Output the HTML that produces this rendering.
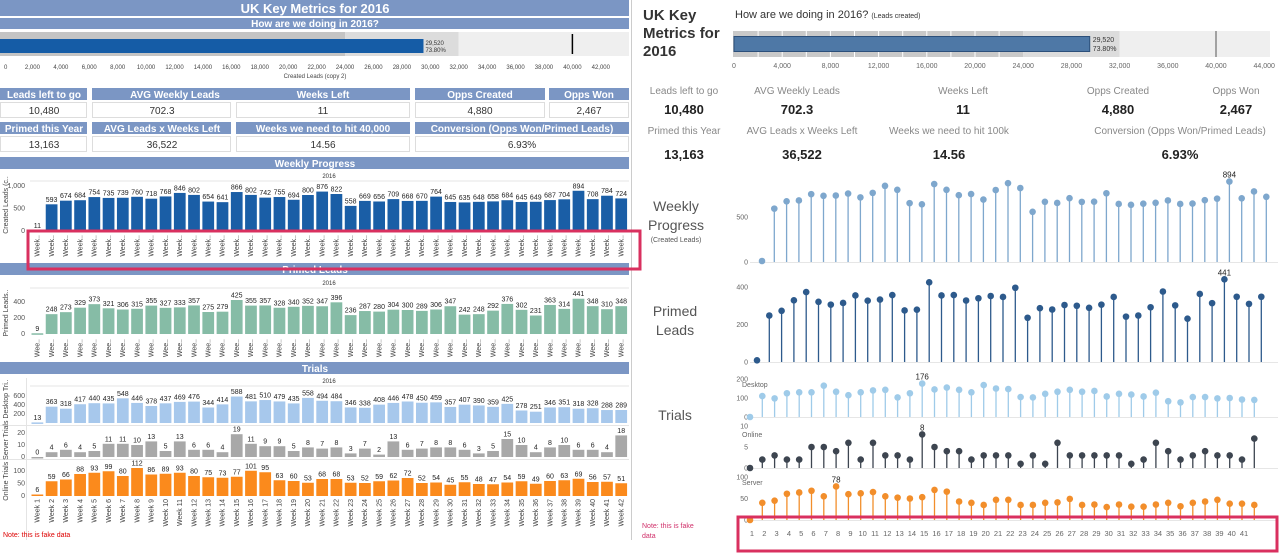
<!DOCTYPE html>
<html><head><meta charset="utf-8">
<style>
html,body{margin:0;padding:0;background:#fff;}
svg{display:block;font-family:"Liberation Sans",sans-serif;}
</style></head>
<body>
<svg id="dash" width="1280" height="553" viewBox="0 0 1280 553" xmlns="http://www.w3.org/2000/svg">
<g>
<rect x="0" y="0" width="629" height="16" fill="#7b96c4"/>
<text x="315" y="13" font-size="13" font-weight="bold" fill="#fff" text-anchor="middle">UK Key Metrics for 2016</text>
<rect x="0" y="18" width="629" height="11" fill="#7b96c4"/>
<text x="315" y="27" font-size="10" font-weight="bold" fill="#fff" text-anchor="middle">How are we doing in 2016?</text>
<g id="lbullet"></g>
<g font-size="10" text-anchor="middle">
<rect x="0" y="88" width="87" height="12" fill="#7b96c4"/><text x="44" y="98" fill="#fff" font-weight="bold">Leads left to go</text>
<rect x="92" y="88" width="166" height="12" fill="#7b96c4"/><text x="175" y="98" fill="#fff" font-weight="bold">AVG Weekly Leads</text>
<rect x="236" y="88" width="174" height="12" fill="#7b96c4"/><text x="323" y="98" fill="#fff" font-weight="bold">Weeks Left</text>
<rect x="415" y="88" width="130" height="12" fill="#7b96c4"/><text x="480" y="98" fill="#fff" font-weight="bold">Opps Created</text>
<rect x="549" y="88" width="80" height="12" fill="#7b96c4"/><text x="589" y="98" fill="#fff" font-weight="bold">Opps Won</text>
<rect x="0.5" y="102.5" width="86" height="15" fill="#fff" stroke="#ddd"/><text x="44" y="114" fill="#333">10,480</text>
<rect x="92.5" y="102.5" width="138" height="15" fill="#fff" stroke="#ddd"/><text x="162" y="114" fill="#333">702.3</text>
<rect x="236.5" y="102.5" width="173" height="15" fill="#fff" stroke="#ddd"/><text x="323" y="114" fill="#333">11</text>
<rect x="415.5" y="102.5" width="129" height="15" fill="#fff" stroke="#ddd"/><text x="480" y="114" fill="#333">4,880</text>
<rect x="549.5" y="102.5" width="79" height="15" fill="#fff" stroke="#ddd"/><text x="589" y="114" fill="#333">2,467</text>
<rect x="0" y="122" width="87" height="12" fill="#7b96c4"/><text x="44" y="132" fill="#fff" font-weight="bold">Primed this Year</text>
<rect x="92" y="122" width="139" height="12" fill="#7b96c4"/><text x="162" y="132" fill="#fff" font-weight="bold">AVG Leads x Weeks Left</text>
<rect x="236" y="122" width="174" height="12" fill="#7b96c4"/><text x="323" y="132" fill="#fff" font-weight="bold">Weeks we need to hit 40,000</text>
<rect x="415" y="122" width="214" height="12" fill="#7b96c4"/><text x="522" y="132" fill="#fff" font-weight="bold">Conversion (Opps Won/Primed Leads)</text>
<rect x="0.5" y="136.5" width="86" height="15" fill="#fff" stroke="#ddd"/><text x="44" y="148" fill="#333">13,163</text>
<rect x="92.5" y="136.5" width="138" height="15" fill="#fff" stroke="#ddd"/><text x="162" y="148" fill="#333">36,522</text>
<rect x="236.5" y="136.5" width="173" height="15" fill="#fff" stroke="#ddd"/><text x="323" y="148" fill="#333">14.56</text>
<rect x="415.5" y="136.5" width="213" height="15" fill="#fff" stroke="#ddd"/><text x="522" y="148" fill="#333">6.93%</text>
</g>
<rect x="0" y="157" width="629" height="12" fill="#7b96c4"/>
<text x="315" y="167" font-size="10" font-weight="bold" fill="#fff" text-anchor="middle">Weekly Progress</text>
<rect x="0" y="263" width="629" height="12" fill="#7b96c4"/>
<text x="315" y="273" font-size="10" font-weight="bold" fill="#fff" text-anchor="middle">Primed Leads</text>
<rect x="0" y="362" width="629" height="12" fill="#7b96c4"/>
<text x="315" y="372" font-size="10" font-weight="bold" fill="#fff" text-anchor="middle">Trials</text>
<line x1="0" x2="629" y1="425.5" y2="425.5" stroke="#e4e4e4"/>
<line x1="0" x2="629" y1="459.5" y2="459.5" stroke="#e4e4e4"/>
<line x1="26.5" x2="26.5" y1="378" y2="540" stroke="#e4e4e4"/>
<g id="lcharts" font-size="7"></g>
<text x="3" y="537" font-size="7" fill="#d00">Note: this is fake data</text>
<line x1="631.5" y1="0" x2="631.5" y2="540" stroke="#ccc"/>
</g>
<g>
<text font-size="15" font-weight="bold" fill="#333"><tspan x="643" y="20">UK Key</tspan><tspan x="643" y="38">Metrics for</tspan><tspan x="643" y="56">2016</tspan></text>
<text x="735" y="18" font-size="11" fill="#333">How are we doing in 2016? <tspan font-size="7">(Leads created)</tspan></text>
<g id="rbullet"></g>
<g text-anchor="middle">
<text x="684" y="94" font-size="10" fill="#888">Leads left to go</text>
<text x="797" y="94" font-size="10" fill="#888">AVG Weekly Leads</text>
<text x="963" y="94" font-size="10" fill="#888">Weeks Left</text>
<text x="1118" y="94" font-size="10" fill="#888">Opps Created</text>
<text x="1236" y="94" font-size="10" fill="#888">Opps Won</text>
<text x="684" y="114" font-size="13" font-weight="bold" fill="#222">10,480</text>
<text x="797" y="114" font-size="13" font-weight="bold" fill="#222">702.3</text>
<text x="963" y="114" font-size="13" font-weight="bold" fill="#222">11</text>
<text x="1118" y="114" font-size="13" font-weight="bold" fill="#222">4,880</text>
<text x="1236" y="114" font-size="13" font-weight="bold" fill="#222">2,467</text>
<text x="684" y="134" font-size="10" fill="#888">Primed this Year</text>
<text x="802" y="134" font-size="10" fill="#888">AVG Leads x Weeks Left</text>
<text x="949" y="134" font-size="10" fill="#888">Weeks we need to hit 100k</text>
<text x="1180" y="134" font-size="10" fill="#888">Conversion (Opps Won/Primed Leads)</text>
<text x="684" y="159" font-size="13" font-weight="bold" fill="#222">13,163</text>
<text x="802" y="159" font-size="13" font-weight="bold" fill="#222">36,522</text>
<text x="949" y="159" font-size="13" font-weight="bold" fill="#222">14.56</text>
<text x="1180" y="159" font-size="13" font-weight="bold" fill="#222">6.93%</text>
</g>
<text text-anchor="middle" fill="#555" font-size="14"><tspan x="676" y="211">Weekly</tspan><tspan x="676" y="230">Progress</tspan><tspan x="676" y="242" font-size="7">(Created Leads)</tspan></text>
<text text-anchor="middle" fill="#555" font-size="14"><tspan x="675" y="316">Primed</tspan><tspan x="675" y="335">Leads</tspan></text>
<text x="675" y="420" text-anchor="middle" fill="#555" font-size="14">Trials</text>
<g id="rcharts" font-size="7"></g>
<text font-size="7" fill="#d0306a"><tspan x="642" y="528">Note: this is fake</tspan><tspan x="642" y="538">data</tspan></text>
</g>
<rect x="28" y="231" width="612" height="38" fill="none" stroke="#d9305f" stroke-width="3"/>
<rect x="738" y="517" width="539" height="34" fill="none" stroke="#d9305f" stroke-width="3"/>
</svg>
<script>
const weekNums = [1,2,3,4,5,6,7,8,9,10,11,12,13,14,15,16,17,18,19,20,21,22,23,24,25,26,27,28,29,30,31,32,33,34,35,36,37,38,39,40,41,42];
const createdLeads = [11,593,674,684,754,735,739,760,718,768,846,802,654,641,866,802,742,755,694,800,876,822,558,669,656,709,668,670,764,645,635,648,658,684,645,649,687,704,894,708,784,724];
const primedLeads = [9,248,273,329,373,321,306,315,355,327,333,357,275,279,425,355,357,328,340,352,347,396,236,287,280,304,300,289,306,347,242,248,292,376,302,231,363,314,441,348,310,348];
const desktopTrials = [13,363,318,417,440,435,548,446,378,437,469,476,344,414,588,481,510,479,435,558,494,484,346,338,408,446,478,450,459,357,407,390,359,425,278,251,346,351,318,328,288,289];
const serverTrials = [0,4,6,4,5,11,11,10,13,5,13,6,6,4,19,11,9,9,5,8,7,8,3,7,2,13,6,7,8,8,6,3,5,15,10,4,8,10,6,6,4,18];
const onlineTrials = [6,59,66,88,93,99,80,112,86,89,93,80,75,73,77,101,95,63,60,53,68,68,53,52,59,62,72,52,54,45,55,48,47,54,59,49,60,63,69,56,57,51];
const rDesktop = [0,110,98,125,130,130,165,133,115,130,140,143,103,125,176,145,155,143,130,168,150,147,105,103,122,133,143,133,137,108,122,118,108,128,83,77,105,105,98,100,92,90];
const rOnline = [0,2,3,2,2,5,5,4,6,2,6,3,3,2,8,5,4,4,2,3,3,3,1,3,1,6,3,3,3,3,3,1,2,6,4,2,3,4,3,3,2,7];
const rServer = [0,40,45,61,64,68,55,78,60,62,65,55,52,50,53,70,66,43,40,35,47,47,35,35,40,41,49,35,36,30,36,31,31,36,40,32,40,43,47,38,38,35];
const bulletActual = [29520];
const bulletPct = ["73.80%"];
const bulletTarget = [40000];
const bulletBands = [24000, 32000];
const leftBulletTicks = [0,2000,4000,6000,8000,10000,12000,14000,16000,18000,20000,22000,24000,26000,28000,30000,32000,34000,36000,38000,40000,42000];
const rightBulletTicks = [0,4000,8000,12000,16000,20000,24000,28000,32000,36000,40000,44000];
const weeklyTicks = [0,500,1000];
const primedTicks = [0,200,400];
const desktopTicks = [200,400,600];
const serverTicks = [0,10,20];
const onlineTicks = [0,50,100];
const rWeeklyTicks = [0,500];
const rPrimedTicks = [0,200,400];
const rDesktopTicks = [0,100,200];
const rOnlineTicks = [0,5,10];
const rServerTicks = [0,50,100];

const NS = 'http://www.w3.org/2000/svg';
function mk(tag, parent){ const e=document.createElementNS(NS,tag); parent.appendChild(e); return e; }
function fmt(v){ return v.toLocaleString('en-US'); }

(function(){
  const g=document.getElementById('lbullet');
  const x=v=>4+v*0.01421;
  const b0=mk('rect',g); b0.setAttribute('x',0); b0.setAttribute('y',32); b0.setAttribute('width',x(bulletBands[0])); b0.setAttribute('height',24); b0.setAttribute('fill','#c4c4c4');
   
  const b1=mk('rect',g); b1.setAttribute('x',x(bulletBands[0])); b1.setAttribute('y',32); b1.setAttribute('width',x(bulletBands[1])-x(bulletBands[0])); b1.setAttribute('height',24); b1.setAttribute('fill','#dcdcdc');
   
  const b2=mk('rect',g); b2.setAttribute('x',x(bulletBands[1])); b2.setAttribute('y',32); b2.setAttribute('width',629-x(bulletBands[1])); b2.setAttribute('height',24); b2.setAttribute('fill','#efefef');
   
  const bar=mk('rect',g); bar.setAttribute('x',0); bar.setAttribute('y',39); bar.setAttribute('width',x(bulletActual[0])); bar.setAttribute('height',14); bar.setAttribute('fill','#155ca6');
   
  const tl=mk('line',g); tl.setAttribute('x1',x(bulletTarget[0])); tl.setAttribute('x2',x(bulletTarget[0])); tl.setAttribute('y1',34); tl.setAttribute('y2',54); tl.setAttribute('stroke','#000'); tl.setAttribute('stroke-width',1.5);
   
  const l1=mk('text',g); l1.setAttribute('x',x(bulletActual[0])+2); l1.setAttribute('y',45); l1.setAttribute('font-size',6); l1.setAttribute('fill','#333'); l1.textContent=fmt(bulletActual[0]);
   
  const l2=mk('text',g); l2.setAttribute('x',x(bulletActual[0])+2); l2.setAttribute('y',52); l2.setAttribute('font-size',6); l2.setAttribute('fill','#333'); l2.textContent=bulletPct[0];
   
  leftBulletTicks.forEach(t=>{
    const tx=mk('text',g); tx.setAttribute('x',x(t)); tx.setAttribute('y',69); tx.setAttribute('font-size',6); tx.setAttribute('fill','#444'); tx.setAttribute('text-anchor', t===0?'start':'middle'); tx.textContent=fmt(t);
     
  });
  const at=mk('text',g); at.setAttribute('x',315); at.setAttribute('y',78); at.setAttribute('font-size',6); at.setAttribute('fill','#444'); at.setAttribute('text-anchor','middle'); at.textContent='Created Leads (copy 2)';
   
})();

const LX0=30, LSTEP=14.24;
const lg=document.getElementById('lcharts');
function leftChart(vals, base, scale, color, ticks, name, firstColor){
  ticks.forEach(t=>{
    const y=base-t*scale;
    const tt=mk('text',lg); tt.setAttribute('x',25); tt.setAttribute('y',y+2); tt.setAttribute('text-anchor','end'); tt.setAttribute('fill','#555'); tt.textContent=fmt(t);
     
  });
  vals.forEach((v,i)=>{
    const h=v*scale, x=LX0+i*LSTEP+1.5, w=LSTEP-2.5;
    const r=mk('rect',lg); r.setAttribute('x',x); r.setAttribute('y',base-h); r.setAttribute('width',w); r.setAttribute('height',Math.max(h,1.5)); r.setAttribute('fill',(i===0&&firstColor)?firstColor:color);
     
    const t=mk('text',lg); t.setAttribute('x',x+w/2); t.setAttribute('y',base-h-2.5); t.setAttribute('text-anchor','middle'); t.setAttribute('fill','#222'); t.textContent=fmt(v);
     
  });
}
function leftXLabels(y, full, name){
  weekNums.forEach((n,i)=>{
    const x=LX0+i*LSTEP+LSTEP/2+2.5;
    const t=mk('text',lg); t.setAttribute('x',x); t.setAttribute('y',y); t.setAttribute('text-anchor','end'); t.setAttribute('fill','#444'); t.setAttribute('transform','rotate(-90 '+x+' '+y+')');
    t.textContent = full===1 ? 'Week '+n : (full===2?'Week..':'Wee..');
     
  });
}
function yearLabel(y,name){
  const t=mk('text',lg); t.setAttribute('x',329); t.setAttribute('y',y); t.setAttribute('text-anchor','middle'); t.setAttribute('fill','#333'); t.setAttribute('font-size',6); t.textContent='2016';
   
  const l=mk('line',lg); l.setAttribute('x1',30); l.setAttribute('x2',629); l.setAttribute('y1',y+3); l.setAttribute('y2',y+3); l.setAttribute('stroke','#e4e4e4');
   
}
function yTitle(x,y,txt,name){
  const t=mk('text',lg); t.setAttribute('x',x); t.setAttribute('y',y); t.setAttribute('text-anchor','middle'); t.setAttribute('fill','#444'); t.setAttribute('transform','rotate(-90 '+x+' '+y+')'); t.textContent=txt;
   
}
yearLabel(178,'weekly');
leftChart(createdLeads,231,0.045,'#1a5ea6',weeklyTicks,'weekly','#9fb7d6');
leftXLabels(235,2,'weekly');
yTitle(8,205,'Created Leads (c..','weekly');
yearLabel(383,'trials');
yearLabel(285,'primed');
leftChart(primedLeads,334,0.08,'#86bca6',primedTicks,'primed');
leftXLabels(339,0,'primed');
yTitle(8,313,'Primed Leads..','primed');
leftChart(desktopTrials,423,0.045,'#a7c8ec',desktopTicks,'desktop');
leftChart(serverTrials,457,1.2,'#a8a8a8',serverTicks,'server');
leftChart(onlineTrials,496,0.25,'#fb8a1c',onlineTicks,'online');
leftXLabels(499,1,'trials');
yTitle(8,440,'Online Trials Server Trials Desktop Tri..','trials');

(function(){
  const g=document.getElementById('rbullet');
  const x=v=>734+v*0.01205;
  const b0=mk('rect',g); b0.setAttribute('x',733); b0.setAttribute('y',31); b0.setAttribute('width',x(bulletBands[0])-733); b0.setAttribute('height',26); b0.setAttribute('fill','#c9c9c9');
   
  const b1=mk('rect',g); b1.setAttribute('x',x(bulletBands[0])); b1.setAttribute('y',31); b1.setAttribute('width',x(bulletBands[1])-x(bulletBands[0])); b1.setAttribute('height',26); b1.setAttribute('fill','#dcdcdc');
   
  const b2=mk('rect',g); b2.setAttribute('x',x(bulletBands[1])); b2.setAttribute('y',31); b2.setAttribute('width',1270-x(bulletBands[1])); b2.setAttribute('height',26); b2.setAttribute('fill','#efefef');
   
  for(let v=2000; v<bulletBands[0]; v+=2000){
    const l=mk('line',g); l.setAttribute('x1',x(v)); l.setAttribute('x2',x(v)); l.setAttribute('y1',31); l.setAttribute('y2',57); l.setAttribute('stroke','#fff');
     
  }
  const bar=mk('rect',g); bar.setAttribute('x',734); bar.setAttribute('y',36.5); bar.setAttribute('width',x(bulletActual[0])-734); bar.setAttribute('height',15); bar.setAttribute('fill','#4e78a6'); bar.setAttribute('stroke','#2c4f7a');
   
  const tl=mk('line',g); tl.setAttribute('x1',x(bulletTarget[0])); tl.setAttribute('x2',x(bulletTarget[0])); tl.setAttribute('y1',31); tl.setAttribute('y2',57); tl.setAttribute('stroke','#555');
   
  const l1=mk('text',g); l1.setAttribute('x',x(bulletActual[0])+3); l1.setAttribute('y',42); l1.setAttribute('font-size',7); l1.setAttribute('fill','#333'); l1.textContent=fmt(bulletActual[0]);
   
  const l2=mk('text',g); l2.setAttribute('x',x(bulletActual[0])+3); l2.setAttribute('y',51); l2.setAttribute('font-size',7); l2.setAttribute('fill','#333'); l2.textContent=bulletPct[0];
   
  rightBulletTicks.forEach(t=>{
    const tx=mk('text',g); tx.setAttribute('x',x(t)); tx.setAttribute('y',68); tx.setAttribute('font-size',7); tx.setAttribute('fill','#666'); tx.setAttribute('text-anchor','middle'); tx.textContent=fmt(t);
     
  });
})();

const rg=document.getElementById('rcharts');
const RSTEP=12.3;
function lolli(vals, x0, base, scale, color, ticks, name, r, maxLabel){
  const grid=mk('line',rg); grid.setAttribute('x1',750); grid.setAttribute('x2',1278); grid.setAttribute('y1',base+0.5); grid.setAttribute('y2',base+0.5); grid.setAttribute('stroke','#e6e6e6');
   
  ticks.forEach(t=>{
    const y=base-t*scale;
    const tt=mk('text',rg); tt.setAttribute('x',748); tt.setAttribute('y',y+2.5); tt.setAttribute('text-anchor','end'); tt.setAttribute('fill','#666'); tt.textContent=fmt(t);
     
  });
  let mi=0; vals.forEach((v,i)=>{ if(v>vals[mi]) mi=i; });
  vals.forEach((v,i)=>{
    const x=x0+i*RSTEP, y=base-v*scale;
    const s=mk('line',rg); s.setAttribute('x1',x); s.setAttribute('x2',x); s.setAttribute('y1',base); s.setAttribute('y2',y); s.setAttribute('stroke',color); s.setAttribute('stroke-width',1.3);
     
    const c=mk('circle',rg); c.setAttribute('cx',x); c.setAttribute('cy',y); c.setAttribute('r',r); c.setAttribute('fill',color);
     
  });
  if(maxLabel){
    const t=mk('text',rg); t.setAttribute('x',x0+mi*RSTEP); t.setAttribute('y',base-vals[mi]*scale-4); t.setAttribute('text-anchor','middle'); t.setAttribute('font-size',8); t.setAttribute('fill','#222'); t.textContent=fmt(vals[mi]);
     
  }
}
function paneLabel(y,txt,name){
  const t=mk('text',rg); t.setAttribute('x',742); t.setAttribute('y',y); t.setAttribute('fill','#666'); t.textContent=txt;
   
}
lolli(createdLeads,762,262,0.09,'#7ea7cd',rWeeklyTicks,'r-weekly',3.3,true);
lolli(primedLeads,757,362,0.1875,'#2d5a8c',rPrimedTicks,'r-primed',3.3,true);
lolli(rDesktop,750,417,0.19,'#9fcbe9',rDesktopTicks,'r-desktop',3.3,true);
paneLabel(387,'Desktop','r-desktop');
lolli(rOnline,750,468,4.2,'#3d4550',rOnlineTicks,'r-online',3.3,true);
paneLabel(437,'Online','r-online');
lolli(rServer,750,520,0.43,'#f28e2b',rServerTicks,'r-server',3.3,true);
paneLabel(485,'Server','r-server');
weekNums.slice(0,41).forEach((n,i)=>{
  const t=mk('text',rg); t.setAttribute('x',752+i*RSTEP); t.setAttribute('y',536); t.setAttribute('text-anchor','middle'); t.setAttribute('font-size',7.5); t.setAttribute('fill','#666'); t.textContent=n;
   
});
</script>
</body></html>
